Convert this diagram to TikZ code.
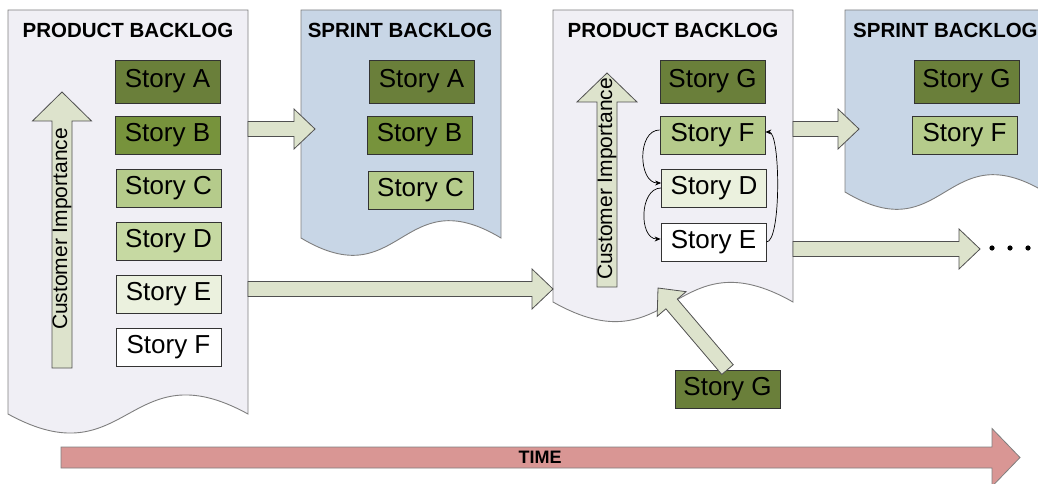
\documentclass[tikz,border=0pt]{standalone}
\usepackage{fontspec}
\setmainfont{Liberation Sans}
\usetikzlibrary{calc,arrows.meta}
\definecolor{pagefill}{HTML}{F0EFF5}
\definecolor{sprintfill}{HTML}{C8D6E6}
\definecolor{pageline}{HTML}{7F7F7F}
\definecolor{fatfill}{HTML}{DDE3CC}
\definecolor{fatline}{HTML}{505050}
\definecolor{timefill}{HTML}{D99694}
\definecolor{stA}{HTML}{6A7F3A}
\definecolor{stB}{HTML}{77933C}
\definecolor{stC}{HTML}{B5CB8B}
\definecolor{stD}{HTML}{C6D9A2}
\definecolor{stE}{HTML}{EBF1DE}
\tikzset{
  story/.style={draw=black!80, line width=0.8pt, minimum width=105pt, minimum height=38pt,
    inner sep=0pt, font=\fontsize{26}{28}\selectfont},
  title/.style={font=\fontsize{20.5}{22}\selectfont\bfseries, inner sep=0pt},
  page/.style={draw=pageline, line width=0.9pt, fill=pagefill},
  sprint/.style={draw=pageline, line width=0.9pt, fill=sprintfill},
  fat/.style={draw=fatline, line width=0.8pt, fill=fatfill},
  ci/.style={font=\fontsize{21}{22}\selectfont, rotate=90, inner sep=0pt},
  thin/.style={-{Stealth[length=6pt,width=5pt]}, line width=0.7pt, black},
}
% #1 style, #2 start, #3 tip, #4 shaft half width, #5 head half width, #6 head length
\newcommand\fatarrow[6]{%
  \draw[#1]
    ($(#2)!#4!-90:(#3)$) --
    ($($(#3)!#6!(#2)$)!#4!-90:(#3)$) --
    ($($(#3)!#6!(#2)$)!#5!-90:(#3)$) --
    (#3) --
    ($($(#3)!#6!(#2)$)!#5!90:(#3)$) --
    ($($(#3)!#6!(#2)$)!#4!90:(#3)$) --
    ($(#2)!#4!90:(#3)$) -- cycle;}
% #1 style, #2 L, #3 T, #4 R, #5 bottom y, #6 control offset
\newcommand\docpage[6]{%
  \path[#1] (#2,#3) -- (#4,#3) -- (#4,#5)
    .. controls ({(#2+#4)/2},{#5-#6}) and ({(#2+#4)/2},{#5+#6}) .. (#2,#5) -- cycle;}
\begin{document}
\begin{tikzpicture}[x=1pt,y=-1pt]
\useasboundingbox (0,0) rectangle (1038,484);
\begin{scope}
\clip (0,0) rectangle (1038,484);
% pages
\docpage{page}{8}{10}{248}{414}{66}
\docpage{sprint}{301}{10}{501}{238}{60}
\docpage{page}{553}{10}{793}{302}{68}
\docpage{sprint}{845}{10}{1045}{192}{60}

\node[title] (t1) at (128,30) {PRODUCT BACKLOG};
\node[title] (t2) at (400,30) {SPRINT BACKLOG};
\node[title] (t3) at (673,30) {PRODUCT BACKLOG};
\node[title, anchor=west] (t4) at (853,30) {SPRINT BACKLOG};

% product backlog 1
\node[story, fill=stA, minimum height=43pt] (a1) at (167.5,81.5) {Story A};
\node[story, fill=stB] (b1) at (167.5,135) {Story B};
\node[story, fill=stC] (c1) at (168.5,188) {Story C};
\node[story, fill=stD] (d1) at (168.5,241) {Story D};
\node[story, fill=stE] (e1) at (168.5,294.5) {Story E};
\node[story, fill=white] (f1) at (168.5,347) {Story F};
\coordinate (ci1s) at (62,368);
\coordinate (ci1t) at (62,92);
\fatarrow{fat}{ci1s}{ci1t}{10pt}{29.5pt}{29pt}
\node[ci] (ci1) at (62,229) {Customer Importance};

% sprint backlog 1
\node[story, fill=stA, minimum height=43pt] (a2) at (421.5,81.5) {Story A};
\node[story, fill=stB] (b2) at (419.5,135) {Story B};
\node[story, fill=stC] (c2) at (420.5,190) {Story C};

% product backlog 2
\node[story, fill=stA, minimum height=43pt] (g3) at (712.5,81.5) {Story G};
\node[story, fill=stC] (f3) at (712.5,135) {Story F};
\node[story, fill=stE] (d3) at (714,188) {Story D};
\node[story, fill=white] (e3) at (713.5,242) {Story E};
\coordinate (ci2s) at (607,287);
\coordinate (ci2t) at (607,73);
\fatarrow{fat}{ci2s}{ci2t}{10pt}{30pt}{29pt}
\node[ci] (ci2) at (607,179) {Customer Importance};
\draw[thin] ([yshift=5pt]f3.west) to[out=180,in=180,looseness=1.1] ([yshift=5pt]d3.west);
\draw[thin] (d3.west) to[out=180,in=180,looseness=1.1] ([yshift=3pt]e3.west);
\draw[thin] (e3.east) to[out=0,in=0,looseness=0.35] ([yshift=3pt]f3.east);

% sprint backlog 2
\node[story, fill=stA, minimum height=43pt] (g4) at (966.5,81.5) {Story G};
\node[story, fill=stC] (f4) at (964.5,135) {Story F};

% new story G
\node[story, fill=stA] (gnew) at (727.5,389) {Story G};

% fat connectors
\coordinate (p1) at (248,129);  \coordinate (s1) at (315,129);
\coordinate (p2) at (248,289);  \coordinate (s2) at (553,289);
\coordinate (p3) at (793,129);  \coordinate (s3) at (859,129);
\coordinate (p4) at (793,249);  \coordinate (s4) at (980,249);
\coordinate (s5) at (658,288);
\fatarrow{fat}{p1}{s1}{7.5pt}{20pt}{21pt}
\fatarrow{fat}{p2}{s2}{7.5pt}{20pt}{21pt}
\fatarrow{fat}{p3}{s3}{7.5pt}{20pt}{21pt}
\fatarrow{fat}{p4}{s4}{7.5pt}{20pt}{21pt}
\fatarrow{fat}{gnew.north}{s5}{7.5pt}{19pt}{21pt}

% dots
\fill (992,248) circle (2.6);
\fill (1010,248) circle (2.6);
\fill (1028,248) circle (2.6);

% time arrow
\coordinate (ts) at (61,457.5);
\coordinate (tt) at (1020,457.5);
\fatarrow{draw=pageline, line width=0.8pt, fill=timefill}{ts}{tt}{10.5pt}{29pt}{28pt}
\node[font=\fontsize{18}{19}\selectfont\bfseries, inner sep=0pt] (time) at (540,457.5) {TIME};
\end{scope}
\end{tikzpicture}
\end{document}
